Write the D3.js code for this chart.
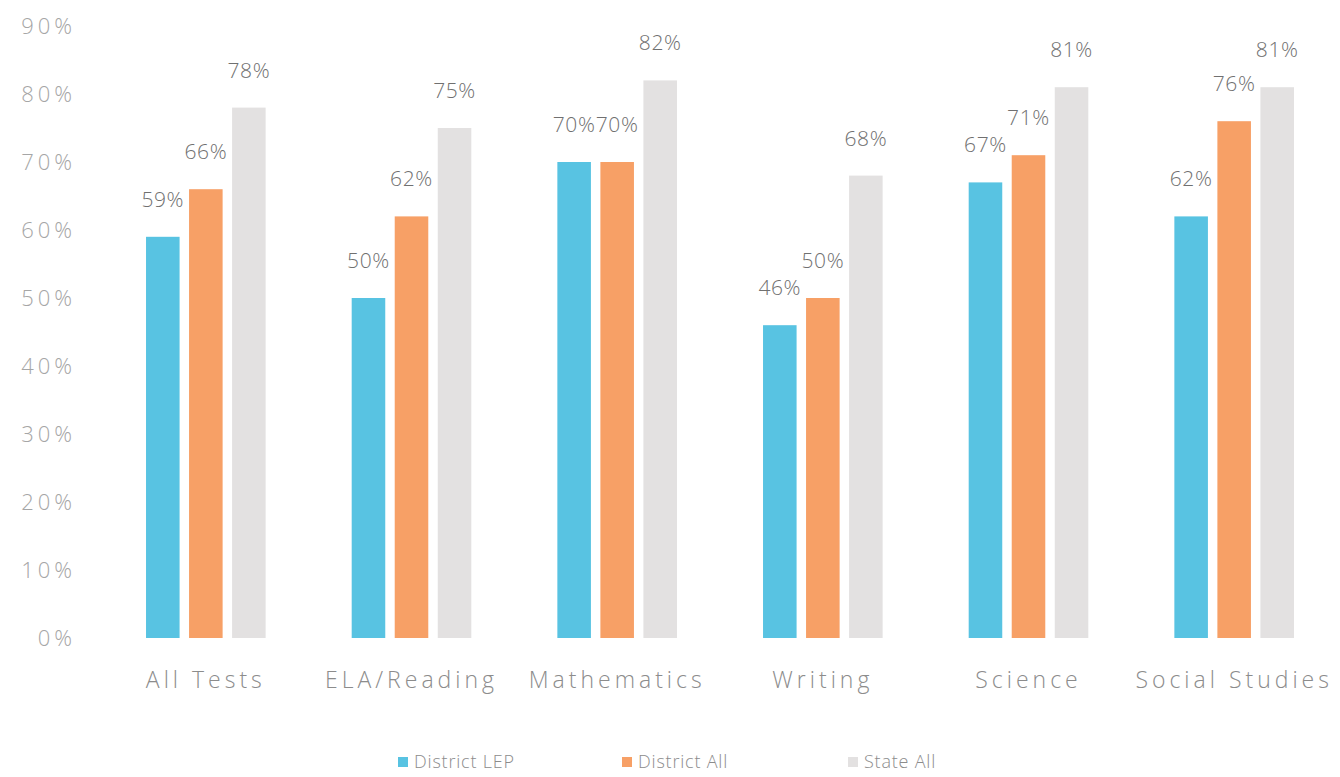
<!DOCTYPE html>
<html>
<head>
<meta charset="utf-8">
<script src="https://cdn.jsdelivr.net/npm/d3@7"></script>
<style>
  html, body { margin: 0; padding: 0; background: #fff; }
  svg { display: block; }
  text { font-family: "Open Sans", "Noto Sans", sans-serif; font-weight: 300; }
</style>
</head>
<body>
<svg id="chart" width="1340" height="777"></svg>
<script>
// Subjects shown along the x axis
const categories = ["All Tests", "ELA/Reading", "Mathematics", "Writing", "Science", "Social Studies"];
// Percent passing for each group
const districtLEP = [59, 50, 70, 46, 67, 62];
const districtAll = [66, 62, 70, 50, 71, 76];
const stateAll    = [78, 75, 82, 68, 81, 81];
const seriesNames = ["District LEP", "District All", "State All"];
const seriesColors = ["#58c3e2", "#f7a066", "#e3e1e1"];
const yTicks = [0, 10, 20, 30, 40, 50, 60, 70, 80, 90];

const series = [districtLEP, districtAll, stateAll];

const svg = d3.select("#chart");

const x = d3.scaleBand()
  .domain(categories)
  .range([103, 1337])
  .paddingInner(0)
  .paddingOuter(0);

const xInner = d3.scaleBand()
  .domain(seriesNames)
  .range([0, x.bandwidth()])
  .paddingInner(0.22)
  .paddingOuter(1.0);

const y = d3.scaleLinear().domain([0, 90]).range([638, 26]);

// Y axis labels (no axis line, no grid)
const yAxis = d3.axisLeft(y)
  .tickValues(yTicks)
  .tickFormat(d => d + "%")
  .tickSize(0)
  .tickPadding(0);

const gy = svg.append("g").attr("transform", "translate(76,0)").call(yAxis);
gy.select(".domain").remove();
gy.selectAll("text")
  .attr("fill", "#a6a6a6")
  .style("font-size", "22px")
  .style("letter-spacing", "4px")
  .style("font-family", "\"Open Sans\", sans-serif")
  .style("font-weight", 300);

// X axis category labels
const xAxis = d3.axisBottom(x).tickSize(0).tickPadding(0);
const gx = svg.append("g").attr("transform", "translate(0,672)").call(xAxis);
gx.select(".domain").remove();
gx.selectAll("text")
  .attr("fill", "#8c8c8c")
  .style("font-size", "23px")
  .style("letter-spacing", "4px")
  .style("font-family", "\"Open Sans\", sans-serif")
  .style("font-weight", 300);

// Bars and value labels
const groups = svg.append("g").selectAll("g")
  .data(categories)
  .join("g")
  .attr("transform", d => `translate(${x(d)},0)`);

seriesNames.forEach((name, si) => {
  groups.append("rect")
    .attr("x", xInner(name))
    .attr("width", xInner.bandwidth())
    .attr("y", (d, i) => y(series[si][i]))
    .attr("height", (d, i) => y(0) - y(series[si][i]))
    .attr("fill", seriesColors[si]);

  groups.append("text")
    .attr("x", xInner(name) + xInner.bandwidth() / 2)
    .attr("y", (d, i) => y(series[si][i]) - 30)
    .attr("text-anchor", "middle")
    .attr("fill", "#707070")
    .style("font-size", "21px")
    .style("letter-spacing", "0.6px")
    .text((d, i) => series[si][i] + "%");
});

// Legend
const legendX = [398, 622, 848];
const legend = svg.append("g").selectAll("g")
  .data(seriesNames)
  .join("g")
  .attr("transform", (d, i) => `translate(${legendX[i]},762)`);

legend.append("rect")
  .attr("x", 0).attr("y", -5)
  .attr("width", 10).attr("height", 10)
  .attr("fill", (d, i) => seriesColors[i]);

legend.append("text")
  .attr("x", 16)
  .attr("dy", "0.35em")
  .attr("fill", "#8c8c8c")
  .style("font-size", "18px")
  .style("letter-spacing", "0.8px")
  .text(d => d);
</script>
</body>
</html>
